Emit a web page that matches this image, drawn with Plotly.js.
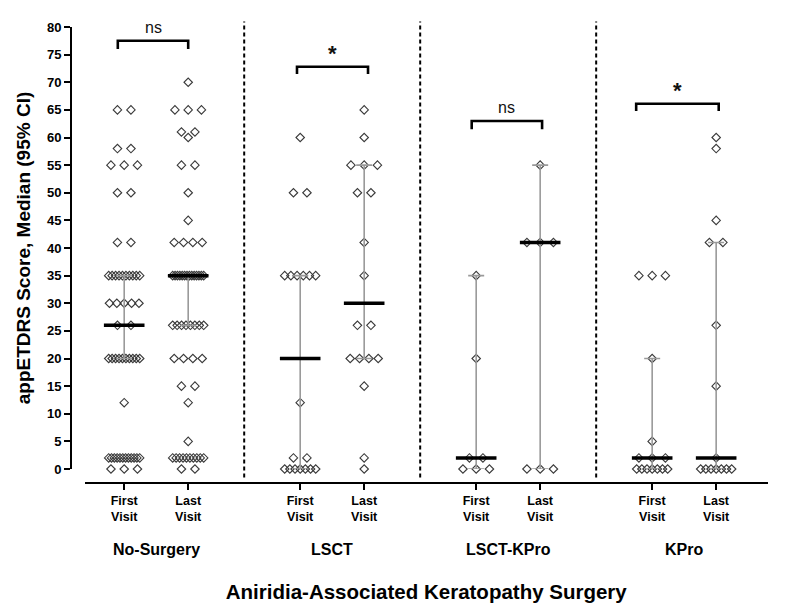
<!DOCTYPE html>
<html>
<head>
<meta charset="utf-8">
<script src="https://cdn.plot.ly/plotly-3.0.1.min.js"></script>
<style>html,body{margin:0;padding:0;background:#fff;}#chart{width:800px;height:609px;}</style>
</head>
<body>
<div id="chart"></div>
<script>
// ---------- data ----------
const groups = ['No-Surgery', 'LSCT', 'LSCT-KPro', 'KPro'];
const visitLabels = ['First<br>Visit', 'Last<br>Visit'];

const noSurgeryFirst = [0,0,0, 2,2,2,2,2,2,2,2,2,2,2,2, 12, 20,20,20,20,20,20,20,20,20,20, 26,26, 30,30,30,30,30,
  35,35,35,35,35,35,35,35,35,35, 41,41, 50,50, 55,55,55, 58,58, 65,65];
const noSurgeryLast = [0,0, 2,2,2,2,2,2,2,2,2,2, 5, 12, 15,15, 20,20,20,20, 26,26,26,26,26,26,26,26,
  35,35,35,35,35,35,35,35,35,35,35,35,35,35, 41,41,41,41, 45, 50, 55,55, 60, 61,61, 65,65,65, 70];
const lsctFirst = [0,0,0,0,0,0,0, 2,2, 12, 35,35,35,35,35,35, 50,50, 60];
const lsctLast = [0, 2, 15, 20,20,20,20, 26,26, 35, 41, 50,50, 55,55,55, 60, 65];
const lsctKproFirst = [0,0,0, 2,2, 20, 35];
const lsctKproLast = [0,0,0, 41,41,41, 55];
const kproFirst = [0,0,0,0,0,0,0, 2,2,2, 5, 20, 35,35,35];
const kproLast = [0,0,0,0,0,0,0, 2, 15, 26, 41,41, 45, 58, 60];

const medians = [26, 35, 20, 30, 2, 41, 2, 2];
const ciLow   = [20, 26, 0, 20, 0, 0, 0, 0];
const ciHigh  = [35, 35, 35, 55, 35, 55, 20, 41];
const sigLabels = ['ns', '*', 'ns', '*'];

// ---------- layout configuration ----------
const columns = [noSurgeryFirst, noSurgeryLast, lsctFirst, lsctLast, lsctKproFirst, lsctKproLast, kproFirst, kproLast];
const groupStep = 2.75;          // x units between groups
const pxPerUnit = 64;
const colX = columns.map((c, i) => Math.floor(i / 2) * groupStep + (i % 2));
const bracketCfg = [            // [height, left offset, right offset, leg drop]
  [77.5, -0.10, 0.0, 1.5],
  [72.8, -0.05, 0.06, 1.3],
  [63.0, -0.07, 0.03, 1.5],
  [66.1, -0.25, 0.04, 1.3]
];
const FONT = 'Liberation Sans, Arial';

function spread(vals, x0) {
  const counts = {}, seen = {};
  vals.forEach(v => counts[v] = (counts[v] || 0) + 1);
  return vals.map(v => {
    const n = counts[v];
    const i = seen[v] = (seen[v] === undefined ? 0 : seen[v] + 1);
    if (n === 1) return x0;
    const W = Math.min(31, 22 + 1.5 * n);
    const s = Math.min(13.5, W / (n - 1));
    return x0 + (i - (n - 1) / 2) * s / pxPerUnit;
  });
}

const traces = [];
columns.forEach((vals, i) => {
  traces.push({
    type: 'scatter', mode: 'markers', x: spread(vals, colX[i]), y: vals,
    cliponaxis: false, hoverinfo: 'y', showlegend: false,
    marker: {symbol: 'diamond-open', size: 6.5, color: '#3a3a3a', line: {width: 1.1, color: '#3a3a3a'}}
  });
});
traces.push({
  type: 'scatter', mode: 'markers', x: colX, y: medians, cliponaxis: false, showlegend: false,
  marker: {symbol: 'line-ew', size: 29, line: {width: 3.5, color: '#000'}},
  error_y: {type: 'data', symmetric: false,
    array: ciHigh.map((h, i) => h - medians[i]),
    arrayminus: ciLow.map((l, i) => medians[i] - l),
    color: '#9a9a9a', thickness: 1.6, width: 8}
});

const shapes = [];
const annotations = [];
for (let g = 0; g < groups.length - 1; g++) {
  const xm = (colX[2 * g + 1] + colX[2 * g + 2]) / 2;
  shapes.push({type: 'line', xref: 'x', yref: 'paper', x0: xm, x1: xm, y0: 0.012, y1: 1.012,
    line: {color: '#000', width: 2, dash: '4px,3px'}});
}
groups.forEach((g, k) => {
  const [h, lo, ro, drop] = bracketCfg[k];
  const xa = colX[2 * k] + lo, xb = colX[2 * k + 1] + ro;
  shapes.push({type: 'path', xref: 'x', yref: 'y',
    path: `M${xa},${h - drop} L${xa},${h} L${xb},${h} L${xb},${h - drop}`,
    line: {color: '#000', width: 2.6}});
  const star = sigLabels[k] === '*';
  annotations.push({xref: 'x', yref: 'y', x: (xa + xb) / 2, y: h, yanchor: 'bottom', yshift: star ? -1 : 3,
    text: sigLabels[k], showarrow: false,
    font: {family: FONT, size: star ? 22 : 16, color: '#111', weight: star ? 'bold' : 'normal'}});
  annotations.push({xref: 'x', yref: 'paper', x: (colX[2 * k] + colX[2 * k + 1]) / 2, y: -0.145,
    yanchor: 'middle', text: g, showarrow: false,
    font: {family: FONT, size: 16, color: '#000', weight: 'bold'}});
});

const layout = {
  width: 800, height: 609,
  margin: {l: 71, r: 32, t: 27, b: 126},
  paper_bgcolor: '#fff', plot_bgcolor: '#fff',
  showlegend: false,
  font: {family: FONT, color: '#000'},
  xaxis: {
    domain: [0.0194, 1], anchor: 'free', position: 0,
    range: [-0.62, 10.06], showgrid: false, zeroline: false,
    showline: true, linecolor: '#000', linewidth: 2,
    ticks: 'outside', ticklen: 6, tickwidth: 2, tickcolor: '#000',
    tickmode: 'array', tickvals: colX, ticktext: colX.map((x, i) => visitLabels[i % 2]),
    tickfont: {size: 12.5, weight: 'bold', family: FONT},
    title: {text: 'Aniridia-Associated Keratopathy Surgery', standoff: 60,
      font: {size: 20.5, weight: 'bold', family: FONT}}
  },
  yaxis: {
    domain: [0.0307, 1], anchor: 'free', position: 0,
    range: [0, 80], dtick: 5, tick0: 0, showgrid: false, zeroline: false,
    showline: true, linecolor: '#000', linewidth: 2,
    ticks: 'outside', ticklen: 6, tickwidth: 2, tickcolor: '#000',
    tickfont: {size: 13, weight: 'bold', family: FONT},
    title: {text: 'appETDRS Score, Median (95% CI)', standoff: 10,
      font: {size: 19, weight: 'bold', family: FONT}}
  },
  shapes: shapes,
  annotations: annotations
};

Plotly.newPlot('chart', traces, layout, {displayModeBar: false, staticPlot: true});
</script>
</body>
</html>
